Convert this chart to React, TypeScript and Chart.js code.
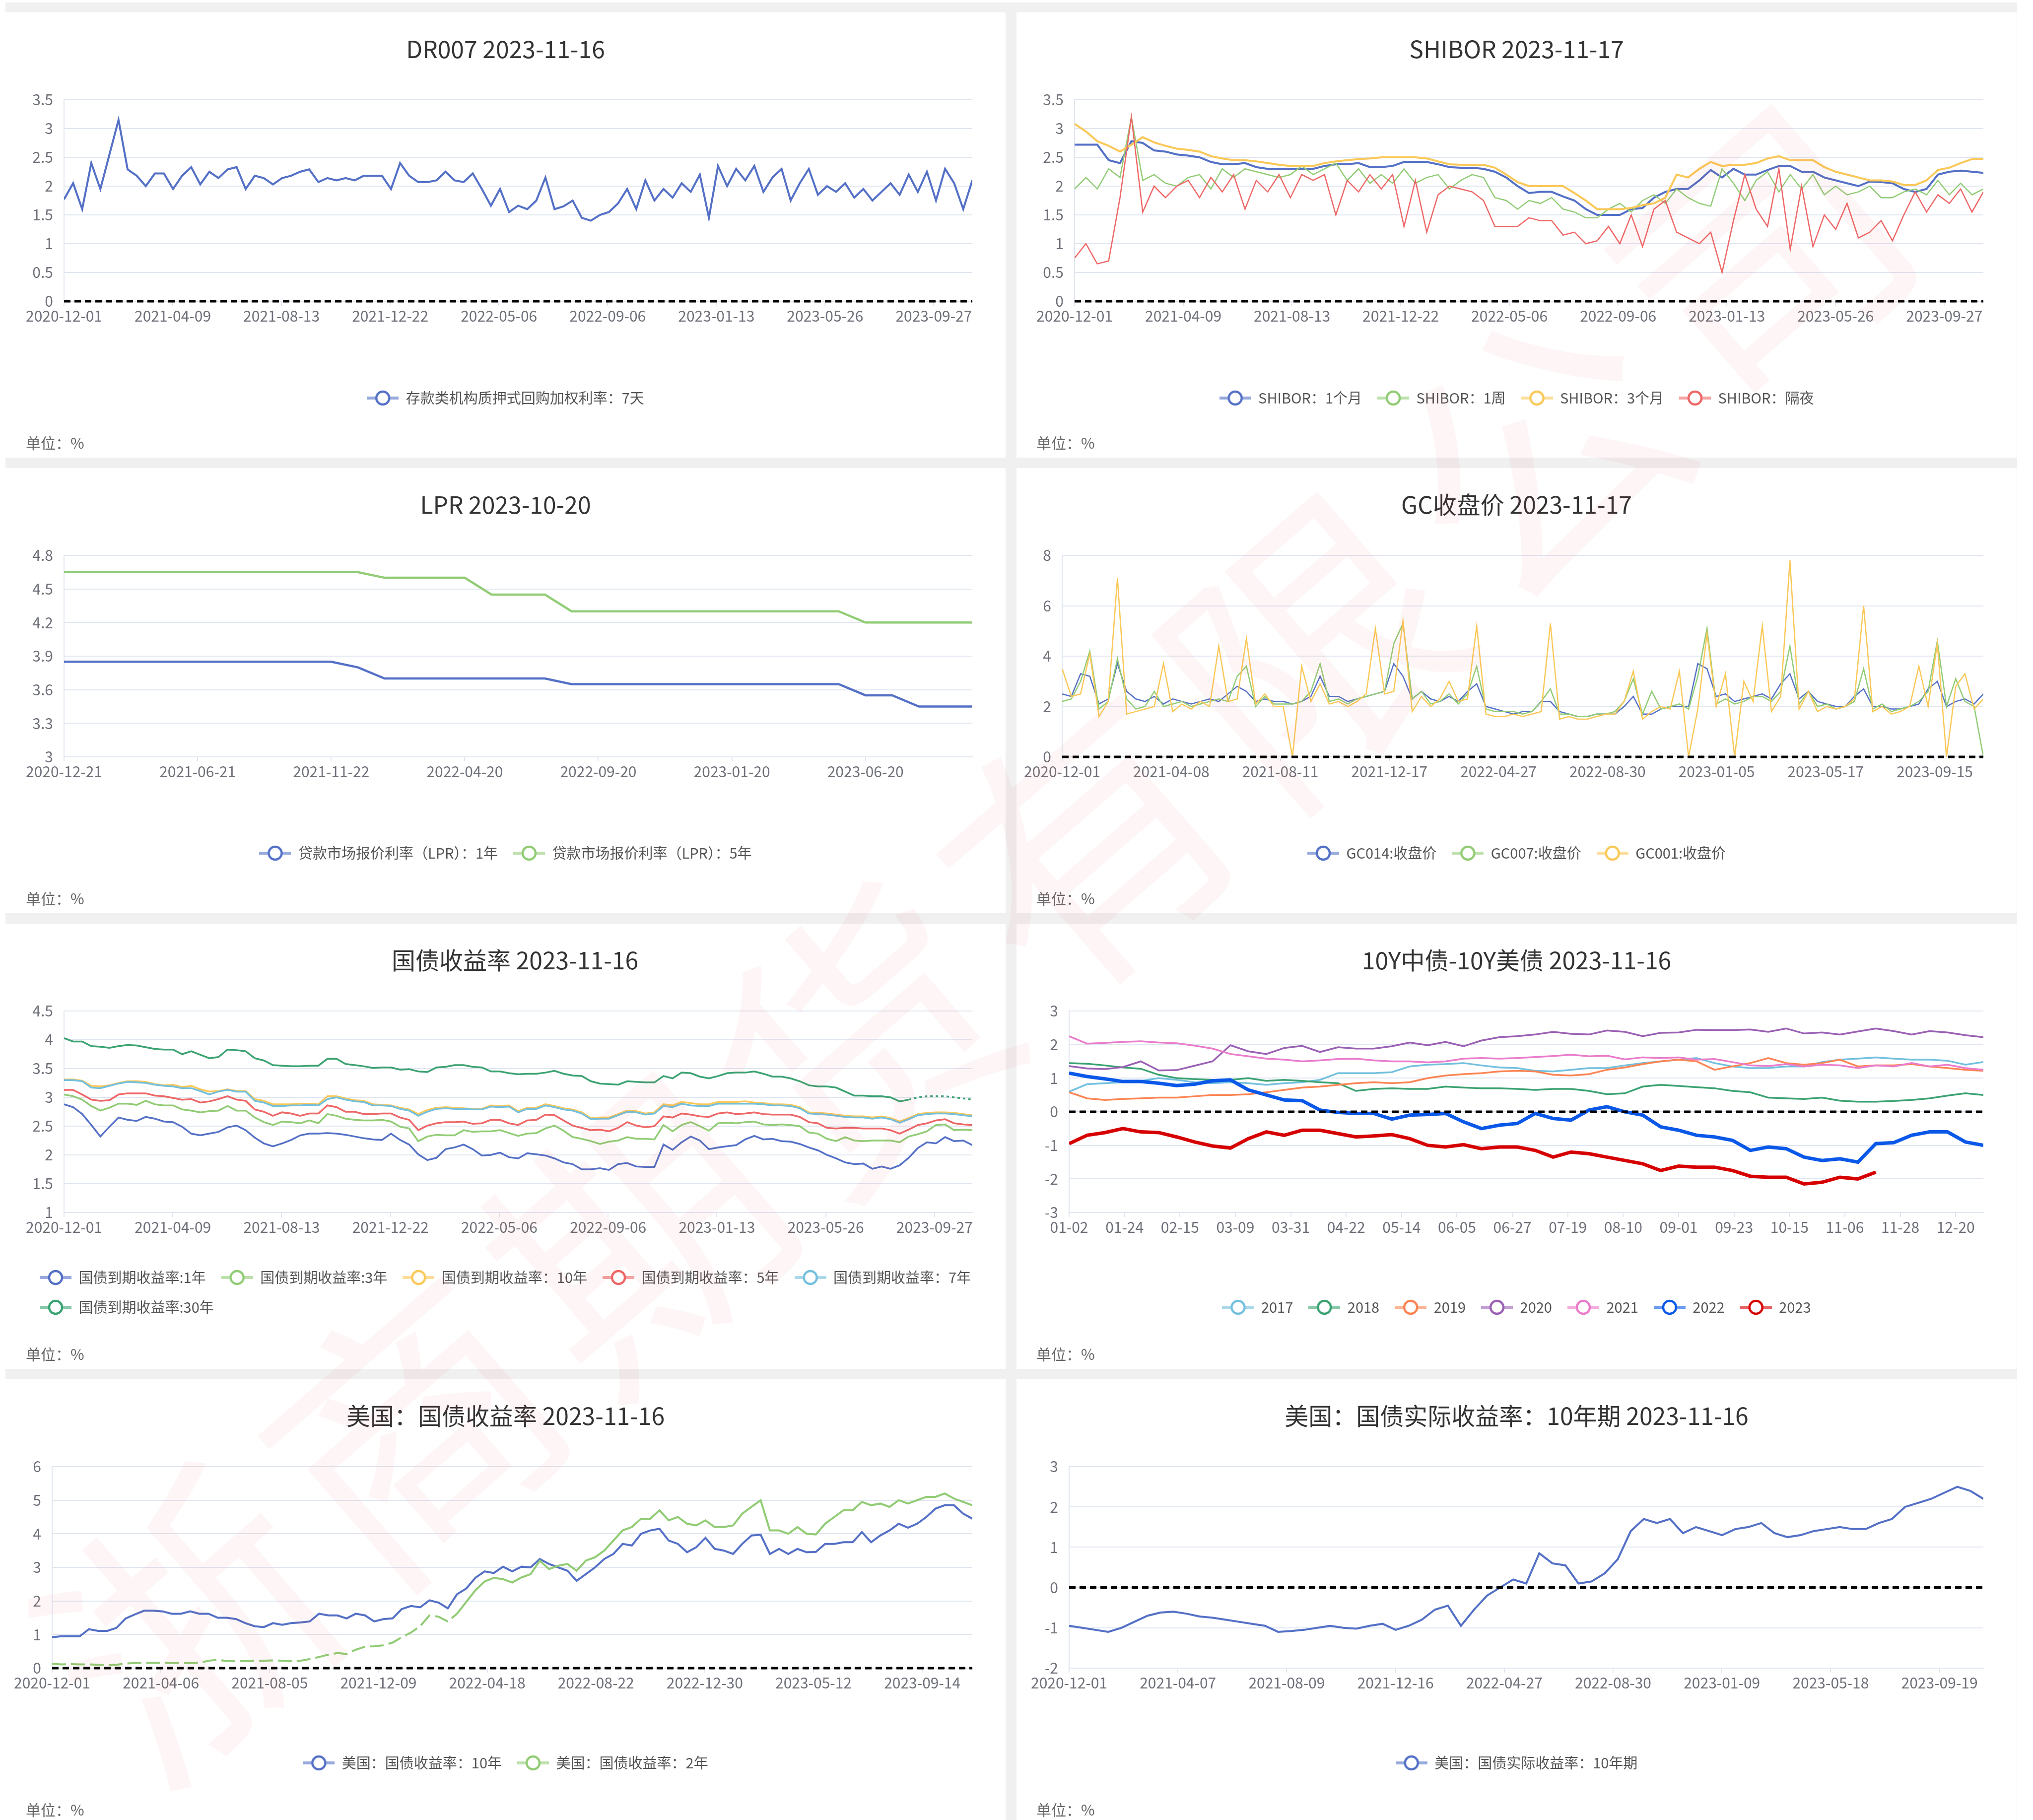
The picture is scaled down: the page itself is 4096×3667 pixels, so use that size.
import React, { useEffect, useRef } from 'react';
import { Chart, registerables } from 'chart.js';

Chart.register(...registerables);

// ================= DATA =================
// --- DR007 ---
const DR_TICKS = ['2020-12-01', '2021-04-09', '2021-08-13', '2021-12-22', '2022-05-06', '2022-09-06', '2023-01-13', '2023-05-26', '2023-09-27'];
const DR007 = [1.77, 2.05, 1.6, 2.4, 1.95, 2.55, 3.15, 2.29, 2.18, 2.0, 2.22, 2.22, 1.95, 2.18, 2.33, 2.03, 2.25, 2.14, 2.29, 2.33, 1.95, 2.18, 2.14, 2.03, 2.14, 2.18, 2.25, 2.29, 2.07, 2.14, 2.1, 2.14, 2.1, 2.18, 2.18, 2.18, 1.95, 2.4, 2.18, 2.07, 2.07, 2.1, 2.25, 2.1, 2.07, 2.22, 1.95, 1.66, 1.95, 1.55, 1.66, 1.6, 1.75, 2.15, 1.6, 1.65, 1.75, 1.45, 1.4, 1.5, 1.55, 1.7, 1.95, 1.6, 2.1, 1.75, 1.95, 1.8, 2.05, 1.9, 2.2, 1.45, 2.35, 2.0, 2.3, 2.1, 2.35, 1.9, 2.15, 2.3, 1.75, 2.05, 2.3, 1.85, 2.0, 1.9, 2.05, 1.8, 1.95, 1.75, 1.9, 2.05, 1.85, 2.2, 1.9, 2.25, 1.75, 2.3, 2.05, 1.6, 2.1];

// --- SHIBOR ---
const SH_TICKS = ['2020-12-01', '2021-04-09', '2021-08-13', '2021-12-22', '2022-05-06', '2022-09-06', '2023-01-13', '2023-05-26', '2023-09-27'];
const SH_1M = [2.72, 2.72, 2.72, 2.45, 2.4, 2.78, 2.75, 2.62, 2.6, 2.55, 2.53, 2.5, 2.42, 2.38, 2.38, 2.4, 2.33, 2.3, 2.3, 2.3, 2.3, 2.3, 2.35, 2.38, 2.38, 2.4, 2.33, 2.33, 2.35, 2.42, 2.42, 2.42, 2.38, 2.33, 2.32, 2.32, 2.3, 2.25, 2.15, 2.0, 1.88, 1.9, 1.9, 1.82, 1.75, 1.6, 1.5, 1.5, 1.5, 1.6, 1.62, 1.8, 1.9, 1.95, 1.95, 2.1, 2.28, 2.15, 2.3, 2.2, 2.2, 2.28, 2.35, 2.35, 2.25, 2.25, 2.15, 2.1, 2.05, 2.0, 2.08, 2.07, 2.05, 1.95, 1.9, 1.95, 2.2, 2.25, 2.27, 2.25, 2.23];
const SH_1W = [1.95, 2.15, 1.95, 2.3, 2.15, 3.2, 2.1, 2.2, 2.05, 2.0, 2.15, 2.2, 1.95, 2.3, 2.15, 2.3, 2.25, 2.2, 2.15, 2.2, 2.35, 2.2, 2.3, 2.4, 2.1, 2.3, 2.05, 2.2, 2.05, 2.3, 2.05, 2.15, 2.2, 1.95, 2.1, 2.2, 2.15, 1.8, 1.75, 1.6, 1.75, 1.7, 1.8, 1.6, 1.55, 1.45, 1.45, 1.6, 1.7, 1.55, 1.75, 1.85, 1.7, 1.95, 1.8, 1.7, 1.65, 2.3, 2.05, 1.75, 2.1, 2.25, 1.9, 2.2, 1.95, 2.2, 1.85, 2.0, 1.85, 1.9, 2.0, 1.8, 1.8, 1.9, 1.95, 1.85, 2.1, 1.85, 2.05, 1.85, 1.95];
const SH_3M = [3.08, 2.95, 2.78, 2.7, 2.6, 2.72, 2.85, 2.76, 2.7, 2.65, 2.63, 2.6, 2.52, 2.48, 2.45, 2.45, 2.43, 2.4, 2.37, 2.35, 2.35, 2.35, 2.4, 2.43, 2.45, 2.47, 2.48, 2.5, 2.5, 2.5, 2.5, 2.48, 2.43, 2.38, 2.37, 2.37, 2.37, 2.32, 2.2, 2.07, 2.0, 2.0, 2.0, 2.0, 1.88, 1.75, 1.6, 1.6, 1.6, 1.62, 1.67, 1.7, 1.8, 2.2, 2.15, 2.3, 2.42, 2.35, 2.37, 2.37, 2.4, 2.48, 2.52, 2.45, 2.45, 2.45, 2.33, 2.25, 2.2, 2.15, 2.1, 2.1, 2.08, 2.02, 2.02, 2.1, 2.28, 2.32, 2.4, 2.47, 2.47];
const SH_ON = [0.75, 1.0, 0.65, 0.7, 1.8, 3.2, 1.55, 2.0, 1.8, 2.0, 2.1, 1.8, 2.15, 1.9, 2.2, 1.6, 2.1, 1.9, 2.2, 1.8, 2.2, 2.1, 2.2, 1.5, 2.1, 1.9, 2.2, 1.95, 2.2, 1.3, 2.1, 1.2, 1.85, 2.0, 1.95, 1.9, 1.75, 1.3, 1.3, 1.3, 1.45, 1.4, 1.4, 1.15, 1.2, 1.0, 1.05, 1.3, 1.0, 1.5, 0.95, 1.6, 1.75, 1.2, 1.1, 1.0, 1.2, 0.5, 1.4, 2.2, 1.6, 1.3, 2.3, 0.9, 2.0, 0.95, 1.5, 1.25, 1.7, 1.1, 1.2, 1.4, 1.05, 1.5, 1.9, 1.55, 1.85, 1.7, 1.95, 1.55, 1.9];

// --- LPR (monthly) ---
const LPR_TICKS = ['2020-12-21', '2021-06-21', '2021-11-22', '2022-04-20', '2022-09-20', '2023-01-20', '2023-06-20'];
const LPR_1Y = [3.85, 3.85, 3.85, 3.85, 3.85, 3.85, 3.85, 3.85, 3.85, 3.85, 3.85, 3.8, 3.7, 3.7, 3.7, 3.7, 3.7, 3.7, 3.7, 3.65, 3.65, 3.65, 3.65, 3.65, 3.65, 3.65, 3.65, 3.65, 3.65, 3.65, 3.55, 3.55, 3.45, 3.45, 3.45];
const LPR_5Y = [4.65, 4.65, 4.65, 4.65, 4.65, 4.65, 4.65, 4.65, 4.65, 4.65, 4.65, 4.65, 4.6, 4.6, 4.6, 4.6, 4.45, 4.45, 4.45, 4.3, 4.3, 4.3, 4.3, 4.3, 4.3, 4.3, 4.3, 4.3, 4.3, 4.3, 4.2, 4.2, 4.2, 4.2, 4.2];

// --- GC closing prices ---
const GC_TICKS = ['2020-12-01', '2021-04-08', '2021-08-11', '2021-12-17', '2022-04-27', '2022-08-30', '2023-01-05', '2023-05-17', '2023-09-15'];
const GC014 = [2.5, 2.4, 3.3, 3.2, 2.1, 2.3, 3.7, 2.6, 2.3, 2.2, 2.4, 2.1, 2.3, 2.2, 2.1, 2.2, 2.3, 2.2, 2.5, 2.8, 2.6, 2.2, 2.3, 2.2, 2.2, 2.1, 2.2, 2.4, 3.2, 2.4, 2.4, 2.2, 2.3, 2.4, 2.5, 2.6, 3.7, 3.2, 2.3, 2.6, 2.3, 2.2, 2.4, 2.2, 2.6, 2.9, 2.0, 1.9, 1.8, 1.7, 1.8, 1.8, 2.2, 2.2, 1.8, 1.7, 1.6, 1.6, 1.7, 1.7, 1.7, 2.0, 2.4, 1.7, 1.7, 1.9, 2.0, 2.0, 2.0, 3.7, 3.5, 2.4, 2.5, 2.2, 2.3, 2.4, 2.5, 2.3, 2.9, 3.3, 2.3, 2.6, 2.2, 2.1, 2.0, 2.0, 2.4, 2.7, 2.0, 2.0, 1.9, 1.9, 2.0, 2.1, 2.7, 3.0, 2.0, 2.2, 2.3, 2.1, 2.5];
const GC007 = [2.2, 2.3, 3.0, 4.2, 1.9, 2.2, 3.9, 2.3, 1.9, 2.0, 2.6, 2.0, 2.1, 2.2, 2.0, 2.1, 2.2, 2.3, 2.2, 3.2, 3.6, 2.0, 2.4, 2.1, 2.1, 2.1, 2.2, 2.6, 3.7, 2.2, 2.3, 2.1, 2.3, 2.4, 2.5, 2.6, 4.5, 5.3, 2.3, 2.6, 2.1, 2.2, 2.5, 2.1, 2.5, 3.6, 1.9, 1.8, 1.8, 1.8, 1.7, 1.8, 2.2, 2.7, 1.7, 1.7, 1.6, 1.6, 1.7, 1.7, 1.8, 2.2, 3.1, 1.7, 2.6, 1.9, 2.0, 2.1, 1.9, 3.2, 5.1, 2.1, 2.3, 2.1, 2.2, 2.4, 2.4, 2.2, 2.6, 4.4, 2.1, 2.6, 2.0, 2.1, 1.9, 2.0, 2.2, 3.5, 1.9, 2.1, 1.8, 1.9, 2.0, 2.2, 2.6, 4.6, 2.0, 3.1, 2.2, 2.0, 0.0];
const GC001 = [3.5, 2.4, 2.5, 4.1, 1.6, 2.2, 7.1, 1.7, 1.8, 1.9, 2.0, 3.7, 1.8, 2.1, 1.9, 2.2, 2.0, 4.4, 2.2, 2.3, 4.7, 2.1, 2.5, 2.0, 2.0, 0.0, 3.6, 2.2, 2.9, 2.1, 2.2, 2.0, 2.2, 2.5, 5.1, 2.5, 2.6, 5.4, 1.8, 2.4, 2.0, 2.3, 3.0, 2.2, 2.3, 5.2, 1.7, 1.6, 1.6, 1.7, 1.6, 1.7, 1.8, 5.3, 1.5, 1.6, 1.5, 1.5, 1.6, 1.7, 1.7, 2.2, 3.4, 1.5, 1.8, 2.0, 1.9, 3.4, 0.0, 1.9, 4.9, 2.0, 3.3, 0.0, 3.0, 2.2, 5.2, 1.8, 2.4, 7.8, 1.9, 2.6, 1.8, 2.0, 1.9, 2.0, 2.3, 6.0, 1.8, 2.0, 1.7, 1.8, 2.0, 3.6, 2.0, 4.5, 0.0, 2.8, 3.3, 1.9, 2.3];

// --- China government bond yields ---
const BD_TICKS = ['2020-12-01', '2021-04-09', '2021-08-13', '2021-12-22', '2022-05-06', '2022-09-06', '2023-01-13', '2023-05-26', '2023-09-27'];
const BD_1Y = [2.88, 2.83, 2.71, 2.52, 2.32, 2.49, 2.65, 2.61, 2.59, 2.66, 2.63, 2.58, 2.57, 2.49, 2.37, 2.34, 2.37, 2.4, 2.48, 2.51, 2.43, 2.3, 2.2, 2.15, 2.2, 2.26, 2.34, 2.37, 2.37, 2.38, 2.37, 2.35, 2.32, 2.29, 2.27, 2.26, 2.37, 2.26, 2.18, 2.01, 1.91, 1.95, 2.1, 2.13, 2.18, 2.1, 1.99, 2.0, 2.04, 1.96, 1.94, 2.03, 2.01, 1.99, 1.94, 1.87, 1.84, 1.75, 1.75, 1.77, 1.74, 1.84, 1.86, 1.8, 1.79, 1.79, 2.18, 2.09, 2.22, 2.32, 2.25, 2.1, 2.13, 2.15, 2.17, 2.27, 2.33, 2.27, 2.28, 2.24, 2.23, 2.19, 2.13, 2.08, 2.0, 1.94, 1.87, 1.84, 1.85, 1.76, 1.8, 1.76, 1.82, 1.95, 2.12, 2.22, 2.2, 2.31, 2.24, 2.25, 2.17];
const BD_3Y = [3.05, 3.02, 2.96, 2.85, 2.77, 2.82, 2.89, 2.89, 2.87, 2.94, 2.88, 2.86, 2.86, 2.79, 2.77, 2.74, 2.76, 2.77, 2.85, 2.77, 2.77, 2.65, 2.57, 2.52, 2.58, 2.57, 2.55, 2.6, 2.55, 2.71, 2.68, 2.63, 2.61, 2.6, 2.6, 2.61, 2.58, 2.49, 2.46, 2.24, 2.32, 2.35, 2.34, 2.34, 2.43, 2.4, 2.41, 2.41, 2.43, 2.38, 2.33, 2.37, 2.38, 2.46, 2.51, 2.42, 2.31, 2.28, 2.24, 2.19, 2.23, 2.25, 2.31, 2.28, 2.28, 2.27, 2.52, 2.41, 2.52, 2.57, 2.5, 2.42, 2.55, 2.56, 2.55, 2.57, 2.58, 2.53, 2.52, 2.53, 2.52, 2.5, 2.39, 2.37, 2.28, 2.24, 2.31, 2.25, 2.24, 2.25, 2.25, 2.25, 2.22, 2.32, 2.36, 2.41, 2.52, 2.53, 2.43, 2.44, 2.43];
const BD_10Y = [3.31, 3.31, 3.29, 3.2, 3.19, 3.21, 3.25, 3.28, 3.28, 3.27, 3.23, 3.21, 3.22, 3.18, 3.2, 3.14, 3.1, 3.11, 3.14, 3.11, 3.11, 2.97, 2.94, 2.88, 2.88, 2.88, 2.89, 2.89, 2.88, 3.02, 3.02, 2.98, 2.95, 2.94, 2.88, 2.87, 2.86, 2.82, 2.79, 2.71, 2.78, 2.82, 2.83, 2.82, 2.81, 2.8, 2.8, 2.86, 2.85, 2.86, 2.76, 2.82, 2.82, 2.88, 2.85, 2.81, 2.79, 2.74, 2.64, 2.65, 2.65, 2.71, 2.77, 2.76, 2.72, 2.74, 2.88, 2.86, 2.92, 2.9, 2.88, 2.88, 2.92, 2.92, 2.92, 2.93, 2.91, 2.9, 2.88, 2.88, 2.87, 2.83, 2.74, 2.73, 2.72, 2.7, 2.68, 2.67, 2.67, 2.65, 2.67, 2.64, 2.58, 2.64, 2.71, 2.73, 2.74, 2.74, 2.73, 2.71, 2.69];
const BD_5Y = [3.13, 3.13, 3.05, 2.96, 2.94, 2.95, 3.05, 3.07, 3.07, 3.07, 3.03, 3.02, 2.99, 2.96, 2.97, 2.91, 2.93, 2.97, 3.02, 2.96, 2.94, 2.79, 2.75, 2.68, 2.74, 2.72, 2.68, 2.72, 2.72, 2.86, 2.83, 2.75, 2.75, 2.71, 2.71, 2.72, 2.72, 2.65, 2.61, 2.43, 2.51, 2.55, 2.57, 2.57, 2.58, 2.54, 2.55, 2.61, 2.61, 2.55, 2.52, 2.6, 2.61, 2.7, 2.69, 2.6, 2.51, 2.47, 2.43, 2.44, 2.41, 2.47, 2.57, 2.51, 2.48, 2.5, 2.67, 2.65, 2.72, 2.7, 2.67, 2.66, 2.72, 2.74, 2.71, 2.72, 2.74, 2.71, 2.7, 2.7, 2.7, 2.66, 2.57, 2.55, 2.47, 2.46, 2.47, 2.47, 2.46, 2.46, 2.46, 2.43, 2.37, 2.44, 2.52, 2.55, 2.6, 2.62, 2.55, 2.53, 2.52];
const BD_7Y = [3.3, 3.3, 3.28, 3.17, 3.16, 3.2, 3.24, 3.27, 3.26, 3.25, 3.22, 3.2, 3.19, 3.16, 3.16, 3.11, 3.05, 3.1, 3.13, 3.1, 3.1, 2.94, 2.91, 2.85, 2.85, 2.86, 2.86, 2.87, 2.86, 2.97, 3.0, 2.96, 2.93, 2.92, 2.86, 2.86, 2.85, 2.8, 2.77, 2.68, 2.75, 2.8, 2.81, 2.8, 2.8, 2.79, 2.79, 2.84, 2.83, 2.84, 2.74, 2.8, 2.8, 2.86, 2.83, 2.79, 2.77, 2.72, 2.62, 2.63, 2.63, 2.69, 2.75, 2.74, 2.7, 2.72, 2.85, 2.83, 2.89, 2.86, 2.85, 2.85, 2.89, 2.89, 2.89, 2.89, 2.89, 2.88, 2.86, 2.86, 2.85, 2.81, 2.72, 2.71, 2.7, 2.68, 2.66, 2.65, 2.65, 2.63, 2.65, 2.62, 2.56, 2.62, 2.69, 2.71, 2.72, 2.72, 2.71, 2.69, 2.67];
const BD_30Y = [4.03, 3.97, 3.97, 3.89, 3.88, 3.86, 3.89, 3.91, 3.9, 3.87, 3.84, 3.83, 3.83, 3.75, 3.8, 3.74, 3.68, 3.7, 3.83, 3.82, 3.8, 3.68, 3.64, 3.56, 3.55, 3.54, 3.54, 3.55, 3.55, 3.67, 3.67, 3.58, 3.56, 3.54, 3.51, 3.52, 3.52, 3.48, 3.49, 3.45, 3.44, 3.52, 3.53, 3.56, 3.56, 3.53, 3.52, 3.45, 3.45, 3.42, 3.4, 3.41, 3.41, 3.43, 3.46, 3.41, 3.38, 3.37, 3.28, 3.24, 3.23, 3.22, 3.28, 3.27, 3.26, 3.26, 3.37, 3.33, 3.43, 3.42, 3.36, 3.33, 3.37, 3.42, 3.43, 3.43, 3.45, 3.41, 3.36, 3.36, 3.33, 3.28, 3.21, 3.19, 3.19, 3.17, 3.1, 3.03, 3.03, 3.02, 3.02, 3.0, 2.93, 2.96, 3.0, 3.02, 3.02, 3.02, 3.0, 2.98, 2.96];

// --- 10Y China minus 10Y US, by calendar year ---
const SP_TICKS = ['01-02', '01-24', '02-15', '03-09', '03-31', '04-22', '05-14', '06-05', '06-27', '07-19', '08-10', '09-01', '09-23', '10-15', '11-06', '11-28', '12-20'];
const SP_2017 = [0.6, 0.82, 0.85, 0.88, 0.92, 1.0, 0.95, 0.88, 0.85, 0.88, 0.85, 0.8, 0.85, 0.88, 0.95, 1.15, 1.15, 1.15, 1.18, 1.35, 1.4, 1.42, 1.45, 1.38, 1.32, 1.3, 1.22, 1.2, 1.25, 1.3, 1.3, 1.38, 1.45, 1.5, 1.55, 1.6, 1.45, 1.35, 1.3, 1.3, 1.35, 1.35, 1.48, 1.55, 1.58, 1.62, 1.58, 1.55, 1.55, 1.52, 1.4, 1.48];
const SP_2018 = [1.45, 1.43, 1.38, 1.32, 1.28, 1.1, 1.0, 0.97, 0.95, 0.95, 1.0, 0.92, 0.95, 0.92, 0.88, 0.85, 0.62, 0.68, 0.7, 0.68, 0.68, 0.75, 0.72, 0.7, 0.7, 0.68, 0.65, 0.68, 0.68, 0.62, 0.52, 0.55, 0.75, 0.8, 0.77, 0.73, 0.7, 0.62, 0.58, 0.42, 0.4, 0.38, 0.42, 0.33, 0.3, 0.3, 0.32, 0.35, 0.4, 0.48, 0.55, 0.5];
const SP_2019 = [0.58, 0.4, 0.35, 0.38, 0.4, 0.42, 0.42, 0.46, 0.5, 0.5, 0.52, 0.58, 0.65, 0.72, 0.75, 0.8, 0.85, 0.88, 0.85, 0.88, 1.0, 1.08, 1.12, 1.15, 1.2, 1.22, 1.2, 1.1, 1.08, 1.12, 1.25, 1.32, 1.42, 1.5, 1.55, 1.5, 1.25, 1.35, 1.45, 1.6, 1.45, 1.4, 1.45, 1.55, 1.35, 1.38, 1.38, 1.42, 1.35, 1.3, 1.25, 1.22];
const SP_2020 = [1.36, 1.29, 1.27, 1.33, 1.5, 1.23, 1.24, 1.37, 1.5, 1.98, 1.8, 1.72, 1.9, 1.96, 1.78, 1.92, 1.88, 1.88, 1.95, 2.06, 1.98, 2.08, 1.95, 2.12, 2.22, 2.25, 2.3, 2.38, 2.32, 2.3, 2.42, 2.38, 2.25, 2.35, 2.36, 2.44, 2.43, 2.43, 2.45, 2.38, 2.48, 2.33, 2.36, 2.3, 2.39, 2.48, 2.4, 2.3, 2.4, 2.36, 2.28, 2.22];
const SP_2021 = [2.25, 2.03, 2.05, 2.08, 2.1, 2.06, 2.04, 1.97, 1.88, 1.72, 1.65, 1.58, 1.55, 1.5, 1.53, 1.57, 1.58, 1.53, 1.5, 1.5, 1.47, 1.5, 1.58, 1.6, 1.58, 1.6, 1.63, 1.66, 1.7, 1.65, 1.67, 1.56, 1.62, 1.6, 1.62, 1.55, 1.57, 1.48, 1.38, 1.36, 1.42, 1.35, 1.4, 1.38, 1.3, 1.38, 1.35, 1.45, 1.35, 1.4, 1.3, 1.25];
const SP_2022 = [1.15, 1.05, 0.98, 0.9, 0.9, 0.85, 0.78, 0.82, 0.92, 0.95, 0.65, 0.5, 0.35, 0.33, 0.05, -0.02, -0.05, -0.05, -0.22, -0.1, -0.08, -0.05, -0.3, -0.5, -0.4, -0.35, -0.05, -0.2, -0.25, 0.05, 0.15, 0.0, -0.1, -0.45, -0.55, -0.7, -0.75, -0.85, -1.15, -1.05, -1.1, -1.35, -1.45, -1.4, -1.5, -0.95, -0.92, -0.7, -0.6, -0.6, -0.9, -1.0];
const SP_2023 = [-0.95, -0.7, -0.62, -0.5, -0.6, -0.62, -0.75, -0.9, -1.02, -1.08, -0.8, -0.6, -0.7, -0.55, -0.55, -0.65, -0.75, -0.72, -0.68, -0.8, -1.0, -1.05, -0.98, -1.1, -1.05, -1.05, -1.15, -1.35, -1.2, -1.25, -1.35, -1.45, -1.55, -1.75, -1.62, -1.65, -1.65, -1.75, -1.92, -1.95, -1.95, -2.15, -2.1, -1.95, -2.0, -1.8];

// --- US Treasury yields ---
const US_TICKS = ['2020-12-01', '2021-04-06', '2021-08-05', '2021-12-09', '2022-04-18', '2022-08-22', '2022-12-30', '2023-05-12', '2023-09-14'];
const US_10Y = [0.92, 0.95, 0.95, 0.95, 1.16, 1.11, 1.11, 1.2, 1.48, 1.6, 1.71, 1.71, 1.69, 1.62, 1.62, 1.69, 1.62, 1.62, 1.5, 1.5, 1.46, 1.34, 1.25, 1.22, 1.34, 1.29, 1.34, 1.36, 1.39, 1.62, 1.57, 1.57, 1.48, 1.62, 1.57, 1.39, 1.46, 1.48, 1.76, 1.85, 1.81, 2.02, 1.95, 1.78, 2.2, 2.37, 2.69, 2.88, 2.83, 3.02, 2.88, 3.02, 3.0, 3.25, 3.1, 3.0, 2.9, 2.6, 2.8, 3.0, 3.25, 3.4, 3.7, 3.65, 4.0, 4.1, 4.15, 3.8, 3.7, 3.45, 3.6, 3.88, 3.55, 3.5, 3.4, 3.7, 3.95, 3.97, 3.4, 3.55, 3.4, 3.55, 3.45, 3.46, 3.7, 3.7, 3.75, 3.75, 4.05, 3.75, 3.95, 4.1, 4.3, 4.18, 4.3, 4.5, 4.75, 4.85, 4.85, 4.6, 4.45];
const US_2Y = [0.13, 0.11, 0.12, 0.11, 0.11, 0.1, 0.09, 0.1, 0.14, 0.15, 0.16, 0.16, 0.16, 0.15, 0.15, 0.15, 0.16, 0.22, 0.25, 0.21, 0.22, 0.21, 0.22, 0.22, 0.23, 0.22, 0.21, 0.22, 0.27, 0.33, 0.4, 0.45, 0.42, 0.55, 0.64, 0.65, 0.68, 0.76, 0.92, 1.06, 1.25, 1.57, 1.53, 1.39, 1.62, 1.97, 2.32, 2.58, 2.69, 2.65, 2.55, 2.7, 2.8, 3.2, 2.95, 3.05, 3.1, 2.9, 3.2, 3.3, 3.5, 3.8, 4.1, 4.2, 4.45, 4.45, 4.7, 4.4, 4.5, 4.3, 4.25, 4.4, 4.2, 4.2, 4.25, 4.6, 4.8, 5.0, 4.1, 4.1, 4.0, 4.2, 4.0, 3.98, 4.3, 4.5, 4.7, 4.7, 4.95, 4.85, 4.9, 4.8, 5.0, 4.9, 5.0, 5.1, 5.1, 5.2, 5.05, 4.95, 4.85];

// --- US real yield 10Y ---
const RY_TICKS = ['2020-12-01', '2021-04-07', '2021-08-09', '2021-12-16', '2022-04-27', '2022-08-30', '2023-01-09', '2023-05-18', '2023-09-19'];
const RY_10Y = [-0.95, -1.0, -1.05, -1.1, -1.0, -0.85, -0.7, -0.62, -0.6, -0.65, -0.72, -0.75, -0.8, -0.85, -0.9, -0.95, -1.1, -1.08, -1.05, -1.0, -0.95, -1.0, -1.02, -0.95, -0.9, -1.05, -0.95, -0.8, -0.55, -0.45, -0.95, -0.55, -0.2, 0.0, 0.2, 0.1, 0.85, 0.6, 0.55, 0.1, 0.15, 0.35, 0.7, 1.4, 1.7, 1.6, 1.7, 1.35, 1.5, 1.4, 1.3, 1.45, 1.5, 1.6, 1.35, 1.25, 1.3, 1.4, 1.45, 1.5, 1.45, 1.45, 1.6, 1.7, 2.0, 2.1, 2.2, 2.35, 2.5, 2.4, 2.2];

// ================= STYLE / LAYOUT =================
const FONT = '"Noto Sans CJK SC", "Noto Sans", "DejaVu Sans", sans-serif';
const PANEL_W = 2015;
const PANEL_H = 897;
const PLOT_TOP = 176;
const PLOT_BOTTOM = 582;
const PLOT_RIGHT = 1948;
const LEG_FONT = 29;
const LEG_PAD = 31;
const TITLE_SIZE = 48;
const GRID = '#E0E6F1';
const AXIS_TEXT = '#6E7079';

const C = {
  blue: '#5470c6', green: '#91cc75', yellow: '#fac858', red: '#ee6666', cyan: '#73c0de',
  dgreen: '#3ba272', orange: '#fc8452', purple: '#9a60b4', pink: '#ea7ccc', b22: '#0a58e8', r23: '#d60000',
};

function makeIcon(color) {
  const c = document.createElement('canvas');
  c.width = 64;
  c.height = 34;
  const g = c.getContext('2d');
  g.strokeStyle = color;
  g.globalAlpha = 0.6;
  g.lineWidth = 6;
  g.beginPath();
  g.moveTo(0, 17);
  g.lineTo(64, 17);
  g.stroke();
  g.globalAlpha = 1;
  g.lineWidth = 4.5;
  g.beginPath();
  g.arc(32, 17, 13, 0, Math.PI * 2);
  g.fillStyle = '#fff';
  g.fill();
  g.stroke();
  return c;
}

const fmt = (v) => String(Math.round(v * 100) / 100);

function buildConfig(spec) {
  const icons = spec.series.map((s) => makeIcon(s.color));
  const xPer = spec.xPer || 1;
  const datasets = spec.series.map((s, i) => {
    const ds = {
      label: s.label,
      data: s.data.map((y, k) => ({ x: k * xPer, y })),
      borderColor: s.color,
      backgroundColor: s.color,
      borderWidth: s.width,
      pointRadius: 0,
      pointHoverRadius: 0,
      tension: 0,
      fill: false,
      order: 100 - i,
    };
    if (s.dash) {
      ds.segment = {
        borderDash: (ctx) => (ctx.p0DataIndex >= s.dashFrom && ctx.p0DataIndex < s.dashTo ? s.dash : undefined),
      };
    }
    return ds;
  });
  if (spec.zeroLine) {
    datasets.push({
      label: '',
      data: [{ x: 0, y: 0 }, { x: spec.xMax, y: 0 }],
      borderColor: '#000',
      borderWidth: 5,
      borderDash: [13, 8],
      pointRadius: 0,
      pointHoverRadius: 0,
      order: 0,
      clip: false,
    });
  }
  const padLeft = spec.padLeft || 0;
  const rows = spec.legendRows || 1;
  const legendH = rows * (LEG_FONT + LEG_PAD) + 10;
  const padBottom = PANEL_H - PLOT_BOTTOM - spec.xAxisH - legendH;
  const titleLine = TITLE_SIZE * 1.2;
  const titlePadTop = 74 - titleLine / 2;
  const titlePadBottom = PLOT_TOP - titlePadTop - titleLine;

  return {
    type: 'line',
    data: { datasets },
    options: {
      responsive: false,
      animation: false,
      devicePixelRatio: 1,
      events: [],
      layout: { padding: { top: 0, left: padLeft, right: 0, bottom: padBottom } },
      scales: {
        x: {
          type: 'linear',
          min: 0,
          max: spec.xMax,
          afterBuildTicks: (sc) => {
            sc.ticks = spec.ticks.map((_, j) => ({ value: j * spec.tickStep }));
          },
          afterFit: (sc) => {
            sc.height = spec.xAxisH;
          },
          ticks: {
            autoSkip: false,
            maxRotation: 0,
            minRotation: 0,
            color: AXIS_TEXT,
            font: { family: FONT, size: 30 },
            padding: 3,
            callback: (_v, idx) => spec.ticks[idx],
          },
          grid: { display: true, drawOnChartArea: false, drawTicks: true, tickLength: 9, color: GRID, lineWidth: 2 },
          border: { display: true, color: GRID, width: 2 },
        },
        y: {
          type: 'linear',
          position: 'left',
          min: spec.yMin,
          max: spec.yMax,
          afterFit: (sc) => {
            sc.width = spec.plotLeft - padLeft;
          },
          ticks: {
            stepSize: spec.yStep,
            color: AXIS_TEXT,
            font: { family: FONT, size: 30 },
            padding: 22,
            callback: (v) => fmt(v),
          },
          grid: { color: GRID, lineWidth: 2, drawTicks: false },
          border: { display: true, color: GRID, width: 2 },
        },
        yR: {
          type: 'linear',
          position: 'right',
          display: true,
          afterFit: (sc) => {
            sc.width = PANEL_W - PLOT_RIGHT;
          },
          ticks: { display: false },
          grid: { display: false, drawTicks: false },
          border: { display: false },
        },
      },
      plugins: {
        tooltip: { enabled: false },
        title: {
          display: true,
          text: spec.title,
          color: '#333',
          font: { family: FONT, size: TITLE_SIZE, weight: 'normal', lineHeight: 1.2 },
          padding: { top: titlePadTop, bottom: titlePadBottom },
        },
        legend: {
          display: true,
          position: 'bottom',
          align: spec.legendAlign || 'center',
          labels: {
            usePointStyle: true,
            pointStyleWidth: 64,
            color: '#555',
            font: { family: FONT, size: LEG_FONT },
            padding: LEG_PAD,
            generateLabels: (chart) =>
              chart.data.datasets
                .map((ds, i) => ({
                  text: ds.label,
                  pointStyle: icons[i],
                  fillStyle: ds.borderColor,
                  strokeStyle: ds.borderColor,
                  lineWidth: 0,
                  fontColor: '#555',
                  hidden: false,
                  datasetIndex: i,
                }))
                .filter((it) => it.text),
          },
        },
      },
    },
  };
}

const SPECS = [
  {
    title: 'DR007 2023-11-16', col: 0, row: 0, plotLeft: 118, xMax: 100, tickStep: 11.97, ticks: DR_TICKS,
    yMin: 0, yMax: 3.5, yStep: 0.5, zeroLine: true, xAxisH: 149.5,
    series: [{ label: '存款类机构质押式回购加权利率：7天', data: DR007, color: C.blue, width: 4 }],
  },
  {
    title: 'SHIBOR 2023-11-17', col: 1, row: 0, plotLeft: 117, xMax: 80, tickStep: 9.57, ticks: SH_TICKS,
    yMin: 0, yMax: 3.5, yStep: 0.5, zeroLine: true, xAxisH: 149.5,
    series: [
      { label: 'SHIBOR：1个月', data: SH_1M, color: C.blue, width: 4 },
      { label: 'SHIBOR：1周', data: SH_1W, color: C.green, width: 2.5 },
      { label: 'SHIBOR：3个月', data: SH_3M, color: C.yellow, width: 4 },
      { label: 'SHIBOR：隔夜', data: SH_ON, color: C.red, width: 2.5 },
    ],
  },
  {
    title: 'LPR 2023-10-20', col: 0, row: 1, plotLeft: 118, xMax: 34, tickStep: 5, ticks: LPR_TICKS,
    yMin: 3, yMax: 4.8, yStep: 0.3, zeroLine: false, xAxisH: 148.5,
    series: [
      { label: '贷款市场报价利率（LPR）：1年', data: LPR_1Y, color: C.blue, width: 4.5 },
      { label: '贷款市场报价利率（LPR）：5年', data: LPR_5Y, color: C.green, width: 4.5 },
    ],
  },
  {
    title: 'GC收盘价 2023-11-17', col: 1, row: 1, plotLeft: 92, xMax: 100, tickStep: 11.84, ticks: GC_TICKS,
    yMin: 0, yMax: 8, yStep: 2, zeroLine: true, xAxisH: 148.5,
    series: [
      { label: 'GC014:收盘价', data: GC014, color: C.blue, width: 2.5 },
      { label: 'GC007:收盘价', data: GC007, color: C.green, width: 2.5 },
      { label: 'GC001:收盘价', data: GC001, color: C.yellow, width: 2.5 },
    ],
  },
  {
    title: '国债收益率 2023-11-16', col: 0, row: 2, plotLeft: 118, xMax: 100, tickStep: 11.98, ticks: BD_TICKS,
    yMin: 1, yMax: 4.5, yStep: 0.5, zeroLine: false, xAxisH: 85.5, legendRows: 2, legendAlign: 'start', padLeft: 38,
    series: [
      { label: '国债到期收益率:1年', data: BD_1Y, color: C.blue, width: 3.5 },
      { label: '国债到期收益率:3年', data: BD_3Y, color: C.green, width: 3.5 },
      { label: '国债到期收益率：10年', data: BD_10Y, color: C.yellow, width: 3.5 },
      { label: '国债到期收益率：5年', data: BD_5Y, color: C.red, width: 3.5 },
      { label: '国债到期收益率：7年', data: BD_7Y, color: C.cyan, width: 3.5 },
      { label: '国债到期收益率:30年', data: BD_30Y, color: C.dgreen, width: 3.5, dash: [5, 6], dashFrom: 93, dashTo: 101 },
    ],
  },
  {
    title: '10Y中债-10Y美债 2023-11-16', col: 1, row: 2, plotLeft: 106, xMax: 363, xPer: 363 / 51, tickStep: 22, ticks: SP_TICKS,
    yMin: -3, yMax: 3, yStep: 1, zeroLine: true, xAxisH: 145.5,
    series: [
      { label: '2017', data: SP_2017, color: C.cyan, width: 3.5 },
      { label: '2018', data: SP_2018, color: C.dgreen, width: 3.5 },
      { label: '2019', data: SP_2019, color: C.orange, width: 3.5 },
      { label: '2020', data: SP_2020, color: C.purple, width: 3.5 },
      { label: '2021', data: SP_2021, color: C.pink, width: 3.5 },
      { label: '2022', data: SP_2022, color: C.b22, width: 7 },
      { label: '2023', data: SP_2023, color: C.r23, width: 7 },
    ],
  },
  {
    title: '美国：国债收益率 2023-11-16', col: 0, row: 3, plotLeft: 94, xMax: 100, tickStep: 11.82, ticks: US_TICKS,
    yMin: 0, yMax: 6, yStep: 1, zeroLine: true, xAxisH: 145.5,
    series: [
      { label: '美国：国债收益率：10年', data: US_10Y, color: C.blue, width: 4 },
      { label: '美国：国债收益率：2年', data: US_2Y, color: C.green, width: 4, dash: [28, 10], dashFrom: 0, dashTo: 44 },
    ],
  },
  {
    title: '美国：国债实际收益率：10年期 2023-11-16', col: 1, row: 3, plotLeft: 106, xMax: 70, tickStep: 8.33, ticks: RY_TICKS,
    yMin: -2, yMax: 3, yStep: 1, zeroLine: true, xAxisH: 145.5,
    series: [{ label: '美国：国债实际收益率：10年期', data: RY_10Y, color: C.blue, width: 4 }],
  },
];

const COL_X = [11, 2048];
const ROW_Y = [25, 943, 1861, 2779];

function ChartPanel({ spec }) {
  const ref = useRef(null);
  useEffect(() => {
    const chart = new Chart(ref.current, buildConfig(spec));
    return () => chart.destroy();
  }, [spec]);
  return (
    <div
      style={{
        position: 'absolute',
        left: COL_X[spec.col],
        top: ROW_Y[spec.row],
        width: PANEL_W,
        height: PANEL_H,
        background: '#fff',
        overflow: 'hidden',
      }}
    >
      <canvas ref={ref} width={PANEL_W} height={PANEL_H} style={{ display: 'block', width: PANEL_W, height: PANEL_H }} />
      <div
        style={{
          position: 'absolute',
          left: spec.col === 0 ? 41 : 40,
          top: 849,
          fontFamily: FONT,
          fontSize: 30,
          lineHeight: '34px',
          color: '#666',
          whiteSpace: 'nowrap',
        }}
      >
        单位：%
      </div>
    </div>
  );
}

export default function App() {
  return (
    <div
      style={{
        position: 'absolute',
        left: 0,
        top: 0,
        width: 4096,
        height: 3667,
        background: '#fff',
        overflow: 'hidden',
      }}
    >
      <div style={{ position: 'absolute', left: 11, top: 5, width: 4053, height: 3662, background: '#f0f0f0' }} />
      {SPECS.map((s, i) => (
        <ChartPanel key={i} spec={s} />
      ))}
      <div
        style={{
          position: 'absolute',
          left: 1960,
          top: 1860,
          transform: 'translate(-50%, -50%) rotate(-41deg)',
          fontFamily: FONT,
          fontSize: 560,
          letterSpacing: 40,
          lineHeight: 1,
          color: 'rgba(225, 40, 40, 0.045)',
          whiteSpace: 'nowrap',
          pointerEvents: 'none',
        }}
      >
        浙商期货有限公司
      </div>
    </div>
  );
}
